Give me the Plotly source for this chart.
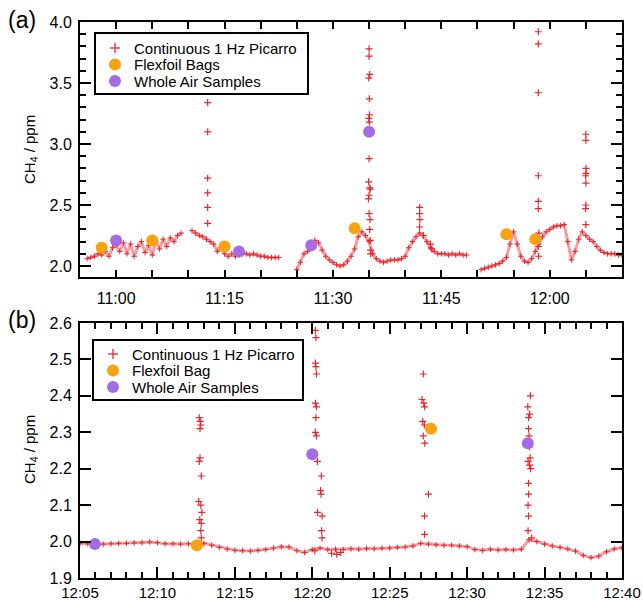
import plotly.graph_objects as go
import pandas as pd

DAY = "2015-01-01 "
RED = "#e8262c"
ORANGE = "#f8a20f"
PURPLE = "#a46ce4"
FONT = "Liberation Sans, Arial, sans-serif"

# ---------------- Panel (a) data ----------------
# continuous 1 Hz Picarro baseline, read every 30 s
a_seg_starts = ["10:56:00", "11:10:30", "11:25:00", "11:50:30"]
a_seg1 = [2.06, 2.07, 2.08, 2.10, 2.09, 2.12, 2.08, 2.15, 2.17, 2.12, 2.19, 2.10, 2.18, 2.08,
          2.16, 2.20, 2.11, 2.17, 2.09, 2.20, 2.14, 2.22, 2.16, 2.23, 2.20, 2.25, 2.27]
a_seg2 = [2.29, 2.27, 2.25, 2.24, 2.22, 2.20, 2.18, 2.12, 2.15, 2.10, 2.08, 2.10, 2.08, 2.09,
          2.10, 2.10, 2.09, 2.10, 2.09, 2.08, 2.08, 2.07, 2.07, 2.07, 2.07]
a_seg3 = [1.97, 2.03, 2.10, 2.12, 2.17, 2.21, 2.19, 2.13, 2.08, 2.05, 2.03, 2.01, 2.00, 2.01,
          2.04, 2.08, 2.14, 2.24, 2.28, 2.25, 2.20, 2.10, 2.06, 2.04, 2.03, 2.04, 2.05, 2.05,
          2.05, 2.06, 2.08, 2.15, 2.20, 2.24, 2.27, 2.25, 2.20, 2.15, 2.12, 2.10, 2.10, 2.10,
          2.09, 2.10, 2.09, 2.10, 2.09, 2.09]
a_seg4 = [1.97, 1.98, 1.99, 2.00, 2.01, 2.02, 2.04, 2.07, 2.18, 2.28, 2.18, 2.08, 2.04, 2.03,
          2.06, 2.12, 2.18, 2.24, 2.28, 2.30, 2.32, 2.33, 2.33, 2.34, 2.20, 2.05, 2.12, 2.22,
          2.28, 2.25, 2.22, 2.20, 2.16, 2.13, 2.11, 2.10, 2.10, 2.10, 2.09, 2.09]
a_segments = [a_seg1, a_seg2, a_seg3, a_seg4]

# isolated spike readings (panel a)
a_spike_times = ["11:12:40"] * 6 + [
    "11:35:00", "11:35:00", "11:35:05", "11:34:58", "11:35:02", "11:35:04", "11:34:58",
    "11:35:02", "11:35:00", "11:34:56", "11:35:06", "11:35:10", "11:35:00", "11:34:55",
    "11:35:00", "11:35:08", "11:35:05", "11:35:10", "11:35:12", "11:35:14",
    "11:42:00", "11:42:00", "11:42:02", "11:42:00", "11:42:30", "11:43:30", "11:43:40",
    "11:58:25", "11:58:25", "11:58:25", "11:58:25", "11:58:25", "11:58:25", "11:58:30",
    "11:58:25", "11:58:28",
    "12:05:00", "12:05:00", "12:05:02", "12:05:00", "12:04:58", "12:05:00", "12:05:00",
    "12:04:58", "12:05:00"]
a_spike_vals = [3.34, 3.10, 2.72, 2.60, 2.48, 2.35,
                3.78, 3.72, 3.57, 3.54, 3.37, 3.24, 3.21, 3.18, 2.88, 2.69, 2.64, 2.63, 2.58,
                2.55, 2.43, 2.38, 2.30, 2.21, 2.13, 2.10,
                2.48, 2.43, 2.38, 2.32, 2.25, 2.18, 2.14,
                3.92, 3.82, 3.42, 2.74, 2.53, 2.47, 2.27, 2.16, 2.08,
                3.08, 3.03, 2.80, 2.76, 2.74, 2.68, 2.50, 2.47, 2.34]

a_bag_times = ["10:58:00", "11:05:00", "11:15:00", "11:33:00", "11:54:00", "11:58:00"]
a_bag_vals = [2.15, 2.21, 2.16, 2.31, 2.26, 2.22]
a_was_times = ["11:00:00", "11:17:00", "11:27:00", "11:35:00"]
a_was_vals = [2.21, 2.12, 2.17, 3.10]

a_tick_times = ["11:00", "11:15", "11:30", "11:45", "12:00"]
a_tick_labels = ["11:00", "11:15", "11:30", "11:45", "12:00"]
a_legend_names = ["Continuous 1 Hz Picarro", "Flexfoil Bags", "Whole Air Samples"]

# ---------------- Panel (b) data ----------------
b_start = "12:05:00"
b_base = [1.995, 1.994, 1.993, 1.993, 1.994, 1.995, 1.995, 1.996, 1.997, 1.999, 1.997, 1.994,
          1.994, 1.993, 1.994, 1.993, 1.995, 1.990, 1.984, 1.979, 1.976, 1.975, 1.974, 1.976,
          1.978, 1.982, 1.986, 1.985, 1.975, 1.970, 1.978, 1.982, 1.978, 1.979, 1.978, 1.980,
          1.979, 1.981, 1.980, 1.982, 1.982, 1.984, 1.985, 1.988, 1.995, 1.993, 1.991, 1.990,
          1.990, 1.988, 1.986, 1.978, 1.976, 1.979, 1.977, 1.978, 1.977, 1.979, 2.005, 2.000,
          1.993, 1.988, 1.984, 1.980, 1.974, 1.962, 1.956, 1.960, 1.972, 1.980, 1.983]

b_spike_times = [
    "12:12:42", "12:12:46", "12:12:48", "12:12:45", "12:12:45", "12:12:42", "12:12:50",
    "12:12:40", "12:12:48", "12:12:52", "12:12:44", "12:12:50", "12:12:48", "12:12:50",
    "12:20:12", "12:20:14", "12:20:12", "12:20:14", "12:20:16", "12:20:12", "12:20:16",
    "12:20:14", "12:20:12", "12:20:16", "12:20:20", "12:20:35", "12:20:32", "12:20:34",
    "12:20:20", "12:20:38", "12:20:36", "12:20:38", "12:20:10", "12:21:15", "12:21:35",
    "12:21:50",
    "12:27:10", "12:27:05", "12:27:12", "12:27:15", "12:27:08", "12:27:14", "12:27:10",
    "12:27:16", "12:27:30", "12:27:15", "12:27:15",
    "12:34:05", "12:33:55", "12:34:02", "12:33:58", "12:33:58", "12:34:00", "12:34:02",
    "12:34:04", "12:33:56", "12:34:02", "12:34:06", "12:33:58", "12:33:58", "12:33:56",
    "12:33:58", "12:33:56", "12:34:10"]
b_spike_vals = [2.34, 2.33, 2.32, 2.31, 2.23, 2.22, 2.18, 2.11, 2.10, 2.08, 2.06, 2.05, 2.03, 2.01,
                2.58, 2.56, 2.49, 2.48, 2.46, 2.38, 2.37, 2.34, 2.30, 2.29, 2.22, 2.18, 2.14, 2.13,
                2.08, 2.07, 2.03, 2.01, 1.975, 1.968, 1.965, 1.970,
                2.46, 2.39, 2.38, 2.37, 2.33, 2.32, 2.29, 2.27, 2.13, 2.07, 2.02,
                2.40, 2.37, 2.35, 2.34, 2.31, 2.29, 2.26, 2.23, 2.22, 2.21, 2.20, 2.16, 2.13,
                2.10, 2.07, 2.03, 2.01]

b_bag_times = ["12:12:33", "12:27:40"]
b_bag_vals = [1.99, 2.31]
b_was_times = ["12:05:58", "12:20:00", "12:33:55"]
b_was_vals = [1.993, 2.24, 2.27]
b_legend_names = ["Continuous 1 Hz Picarro", "Flexfoil Bag", "Whole Air Samples"]


def ts(t):
    return pd.to_datetime([DAY + x for x in t])


cross = dict(symbol="cross-thin", size=5, color=RED, line=dict(color=RED, width=1.2))
base_cross = dict(symbol="cross-thin", size=4, color=RED, line=dict(color=RED, width=1))
base_line = dict(color="rgba(232,38,44,0.45)", width=3)

fig = go.Figure()

# panel a traces
for start, vals in zip(a_seg_starts, a_segments):
    fig.add_trace(go.Scatter(
        x=pd.date_range(DAY + start, periods=len(vals), freq="30s"), y=vals,
        mode="lines+markers", line=base_line, marker=base_cross,
        showlegend=False, xaxis="x", yaxis="y"))
fig.add_trace(go.Scatter(x=ts(a_spike_times), y=a_spike_vals, mode="markers",
                         marker=cross, showlegend=False, xaxis="x", yaxis="y"))
fig.add_trace(go.Scatter(x=ts(a_bag_times), y=a_bag_vals, mode="markers",
                         marker=dict(size=12, color=ORANGE), showlegend=False,
                         xaxis="x", yaxis="y"))
fig.add_trace(go.Scatter(x=ts(a_was_times), y=a_was_vals, mode="markers",
                         marker=dict(size=12, color=PURPLE), showlegend=False,
                         xaxis="x", yaxis="y"))

# panel b traces
fig.add_trace(go.Scatter(
    x=pd.date_range(DAY + b_start, periods=len(b_base), freq="30s"), y=b_base,
    mode="lines+markers", line=base_line, marker=base_cross,
    showlegend=False, xaxis="x2", yaxis="y2"))
fig.add_trace(go.Scatter(x=ts(b_spike_times), y=b_spike_vals, mode="markers",
                         marker=cross, showlegend=False, xaxis="x2", yaxis="y2"))
fig.add_trace(go.Scatter(x=ts(b_bag_times), y=b_bag_vals, mode="markers",
                         marker=dict(size=12, color=ORANGE), showlegend=False,
                         xaxis="x2", yaxis="y2"))
fig.add_trace(go.Scatter(x=ts(b_was_times), y=b_was_vals, mode="markers",
                         marker=dict(size=12, color=PURPLE), showlegend=False,
                         xaxis="x2", yaxis="y2"))

W, H = 643, 601
L, R = 80, 622
a_top, a_bot = 22, 277
b_top, b_bot = 323, 578

axis_common = dict(showline=True, linecolor="black", linewidth=2, mirror="ticks",
                   ticks="inside", tickcolor="black", tickwidth=1.5, showgrid=False,
                   zeroline=False, automargin=False)
tick16 = dict(family=FONT, size=16, color="black")


def px(x):
    return x / W


def py(y):
    return 1 - y / H


# custom legends (box, symbol shapes, labels)
shapes = []
annotations = []
legends = [
    dict(box=(95, 33, 308, 94), rows=(48, 64.5, 81), sx=115, tx=133, names=a_legend_names),
    dict(box=(93, 340, 303, 400), rows=(354, 370.5, 387), sx=113, tx=131, names=b_legend_names),
]
for lg in legends:
    x0, y0, x1, y1 = lg["box"]
    shapes.append(dict(type="rect", xref="paper", yref="paper", x0=px(x0), x1=px(x1),
                       y0=py(y1), y1=py(y0), line=dict(color="black", width=2),
                       fillcolor="white", layer="above"))
    sx = lg["sx"]
    r0, r1, r2 = lg["rows"]
    # red plus
    shapes.append(dict(type="line", xref="paper", yref="paper", x0=px(sx - 5), x1=px(sx + 5),
                       y0=py(r0), y1=py(r0), line=dict(color=RED, width=1.3), layer="above"))
    shapes.append(dict(type="line", xref="paper", yref="paper", x0=px(sx), x1=px(sx),
                       y0=py(r0 - 5), y1=py(r0 + 5), line=dict(color=RED, width=1.3),
                       layer="above"))
    # dots
    for ry, c in ((r1, ORANGE), (r2, PURPLE)):
        shapes.append(dict(type="circle", xref="paper", yref="paper",
                           x0=px(sx - 6), x1=px(sx + 6), y0=py(ry + 6), y1=py(ry - 6),
                           fillcolor=c, line=dict(width=0), layer="above"))
    for ry, name in zip(lg["rows"], lg["names"]):
        annotations.append(dict(text=name, x=px(lg["tx"]), y=py(ry), xref="paper",
                                yref="paper", xanchor="left", yanchor="middle",
                                showarrow=False, borderpad=0,
                                font=dict(family=FONT, size=15, color="black")))

annotations += [
    dict(text="(a)", x=px(22), y=py(20), xref="paper", yref="paper", xanchor="center",
         yanchor="middle", showarrow=False, font=dict(family=FONT, size=23, color="black")),
    dict(text="(b)", x=px(22), y=py(320), xref="paper", yref="paper", xanchor="center",
         yanchor="middle", showarrow=False, font=dict(family=FONT, size=23, color="black")),
    dict(text="CH<sub>4</sub> / ppm", x=px(30), y=py(150), xref="paper", yref="paper",
         xanchor="center", yanchor="middle", showarrow=False, textangle=-90,
         font=dict(family=FONT, size=15, color="black")),
    dict(text="CH<sub>4</sub> / ppm", x=px(30), y=py(450), xref="paper", yref="paper",
         xanchor="center", yanchor="middle", showarrow=False, textangle=-90,
         font=dict(family=FONT, size=15, color="black")),
]

fig.update_layout(
    width=W, height=H, autosize=False,
    margin=dict(l=0, r=0, t=0, b=0),
    paper_bgcolor="white", plot_bgcolor="white",
    font=dict(family=FONT, color="black"),
    showlegend=False,
    xaxis=dict(domain=[px(L), px(R)], anchor="y", type="date",
               range=[DAY + "10:55", DAY + "12:10"],
               tickmode="array", tickvals=[DAY + t for t in a_tick_times],
               ticktext=a_tick_labels, ticklen=7, ticklabelstandoff=6, tickfont=tick16,
               minor=dict(dtick=300000, tick0=DAY + "10:55", ticklen=7, ticks="inside",
                          tickcolor="black", tickwidth=1.5),
               **axis_common),
    yaxis=dict(domain=[py(a_bot), py(a_top)], anchor="x",
               range=[1.91, 4.0], dtick=0.5, tick0=0, tickformat=".1f", ticklen=11,
               ticklabelstandoff=3, tickfont=tick16,
               minor=dict(dtick=0.1, ticklen=6, ticks="inside", tickcolor="black",
                          tickwidth=1.5),
               **axis_common),
    xaxis2=dict(domain=[px(L), px(R)], anchor="y2", type="date",
                range=[DAY + "12:05", DAY + "12:40"],
                dtick=300000, tick0=DAY + "12:05", tickformat="%H:%M", ticklen=11,
                ticklabelstandoff=0, tickfont=dict(family=FONT, size=15, color="black"),
                minor=dict(dtick=60000, ticklen=6, ticks="inside", tickcolor="black",
                           tickwidth=1.5),
                **axis_common),
    yaxis2=dict(domain=[py(b_bot), py(b_top)], anchor="x2",
                range=[1.9, 2.6], dtick=0.1, tick0=0, tickformat=".1f", ticklen=11,
                ticklabelstandoff=3, tickfont=tick16,
                **axis_common),
    shapes=shapes,
    annotations=annotations,
)

fig.write_html("out.html", config={"displayModeBar": False},
               post_script="document.body.style.margin='0';document.body.style.padding='0';")
